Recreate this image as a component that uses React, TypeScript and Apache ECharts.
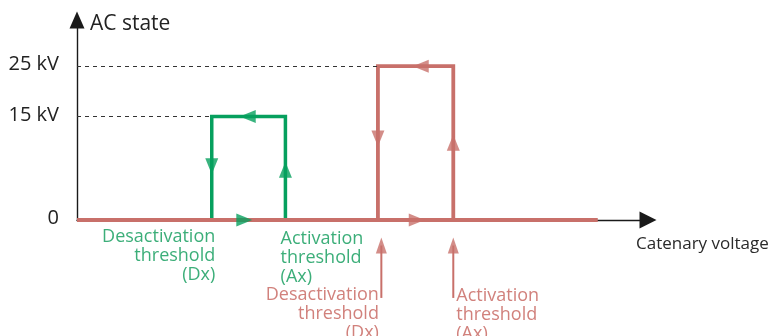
import React, { useEffect, useRef } from 'react';
import * as echarts from 'echarts';

// AC state levels (plotted heights) and their tick labels
const stateLabels = ['0', '15 kV', '25 kV'];
const stateLevels = [0, 15, 22.3];

// Catenary voltage (arbitrary units 0..100) of the hysteresis loops
const greenPathX = [0, 36.5, 36.5, 23.6, 23.6];
const greenPathY = [0, 0, 15, 15, 0];
const redPathX = [0, 65.9, 65.9, 52.7, 52.7, 91.2];
const redPathY = [0, 0, 22.3, 22.3, 0, 0];

// direction arrows on the loops
const greenArrowX = [29.3, 36.5, 29.9, 23.6];
const greenArrowY = [0, 7.3, 15, 7.8];
const greenArrowDir = ['right', 'up', 'left', 'down'];
const redArrowX = [59.5, 65.9, 60.2, 52.7];
const redArrowY = [0, 11.2, 22.3, 11.8];
const redArrowDir = ['right', 'up', 'left', 'down'];

// red pointer arrows below the axis
const pointerX = [53.3, 65.9];
const pointerTailY = -11.3;
const pointerHeadY = -3.7;

// threshold labels
const labelX = [23.6, 36.5, 52.7, 65.9];
const labelText = [
  'Desactivation\nthreshold\n(Dx)',
  'Activation\nthreshold\n(Ax)',
  'Desactivation\nthreshold\n(Dx)',
  'Activation\nthreshold\n(Ax)',
];

const GREEN = '#06a05e';
const RED = '#c8706a';
const GREEN_TEXT = '#0b9a58';
const RED_TEXT = '#c5625b';

const rot: Record<string, number> = { right: -90, left: 90, up: 0, down: 180 };

export default function App() {
  const ref = useRef<HTMLDivElement>(null);
  useEffect(() => {
    if (!ref.current) return;
    const chart = echarts.init(ref.current, null, { renderer: 'svg' });
    const zip = (xs: number[], ys: number[]) => xs.map((x, i) => [x, ys[i]]);
    const labelStyles = [
      { align: 'right', offset: [4, 5.5], color: GREEN_TEXT },
      { align: 'left', offset: [-4.3, 7.5], color: GREEN_TEXT },
      { align: 'right', offset: [1.5, 63.5], color: RED_TEXT },
      { align: 'left', offset: [3.5, 64.5], color: RED_TEXT },
    ];
    const option: any = {
      animation: false,
      textStyle: { fontFamily: 'Open Sans' },
      grid: { left: 77, right: 126, top: 20, bottom: 116, containLabel: false, outerBoundsMode: 'none' },
      xAxis: {
        type: 'value',
        min: 0,
        max: 100,
        name: 'Catenary voltage',
        nameLocation: 'end',
        nameGap: -12,
        nameTextStyle: { fontSize: 17, color: '#2a2a2a', align: 'left', verticalAlign: 'top', padding: [14, 0, 0, 0] },
        axisLine: { show: true, onZero: true, symbol: ['none', 'triangle'], symbolSize: [17, 17], lineStyle: { color: '#1a1a1a', width: 1.4 } },
        axisTick: { show: false },
        axisLabel: { show: false },
        splitLine: { show: false },
      },
      yAxis: {
        type: 'value',
        min: 0,
        max: 29,
        name: 'AC state',
        nameLocation: 'end',
        nameGap: -1.5,
        nameTextStyle: { fontSize: 21, color: '#222', align: 'left', verticalAlign: 'middle', padding: [0, 0, 0, 13] },
        axisLine: { show: true, symbol: ['none', 'triangle'], symbolSize: [15, 17], lineStyle: { color: '#1a1a1a', width: 1.4 } },
        axisTick: { show: false },
        splitLine: { show: false },
        axisLabel: {
          show: true,
          customValues: stateLevels,
          fontSize: 20,
          color: '#222',
          margin: 18,
          formatter: (v: number) => {
            const i = stateLevels.findIndex((s) => Math.abs(s - v) < 1e-6);
            return i >= 0 ? '{t|' + stateLabels[i] + '}' : '';
          },
          rich: {
            t: { fontSize: 20, color: '#222', fontFamily: 'Open Sans', padding: [0, 0, 7, 0] },
          },
        },
      },
      series: [
        {
          type: 'line',
          data: zip(greenPathX, greenPathY),
          symbol: 'none',
          clip: false,
          z: 2,
          lineStyle: { color: GREEN, width: 3.5, join: 'miter' },
          markLine: {
            silent: true,
            symbol: 'none',
            label: { show: false },
            lineStyle: { type: [4, 4], color: '#333', width: 1.2 },
            data: [[{ coord: [0, stateLevels[1]] }, { coord: [greenPathX[3], stateLevels[1]] }]],
          },
        },
        {
          type: 'line',
          data: zip(redPathX, redPathY),
          symbol: 'none',
          clip: false,
          z: 3,
          lineStyle: { color: RED, width: 3.8, join: 'miter' },
          markLine: {
            silent: true,
            symbol: 'none',
            label: { show: false },
            lineStyle: { type: [4, 4], color: '#333', width: 1.2 },
            data: [[{ coord: [0, stateLevels[2]] }, { coord: [redPathX[3], stateLevels[2]] }]],
          },
        },
        {
          type: 'scatter',
          clip: false,
          z: 4,
          symbol: 'triangle',
          symbolSize: [13, 16],
          itemStyle: { color: GREEN },
          data: greenArrowX.map((x, i) => ({ value: [x, greenArrowY[i]], symbolRotate: rot[greenArrowDir[i]] })),
        },
        {
          type: 'scatter',
          clip: false,
          z: 4,
          symbol: 'triangle',
          symbolSize: [13, 16],
          itemStyle: { color: RED },
          data: redArrowX.map((x, i) => ({ value: [x, redArrowY[i]], symbolRotate: rot[redArrowDir[i]] })),
        },
        ...pointerX.map((x) => ({
          type: 'line',
          data: [[x, pointerTailY], [x, pointerHeadY]],
          symbol: 'none',
          clip: false,
          z: 4,
          lineStyle: { color: RED, width: 2 },
        })),
        {
          type: 'scatter',
          clip: false,
          z: 4,
          symbol: 'triangle',
          symbolSize: [11, 16],
          itemStyle: { color: RED },
          data: pointerX.map((x) => [x, pointerHeadY]),
        },
        {
          type: 'scatter',
          clip: false,
          z: 5,
          symbol: 'circle',
          symbolSize: 1,
          itemStyle: { color: 'rgba(0,0,0,0)' },
          data: labelX.map((x, i) => ({
            value: [x, 0],
            label: {
              show: true,
              position: [0, 0],
              formatter: labelText[i],
              align: labelStyles[i].align,
              verticalAlign: 'top',
              offset: labelStyles[i].offset,
              color: labelStyles[i].color,
              fontSize: 18,
              lineHeight: 19,
              fontFamily: 'Open Sans',
            },
          })),
        },
      ],
    };
    chart.setOption(option);
    return () => chart.dispose();
  }, []);
  return <div ref={ref} style={{ position: 'fixed', left: 0, top: 0, width: 774, height: 336 }} />;
}
